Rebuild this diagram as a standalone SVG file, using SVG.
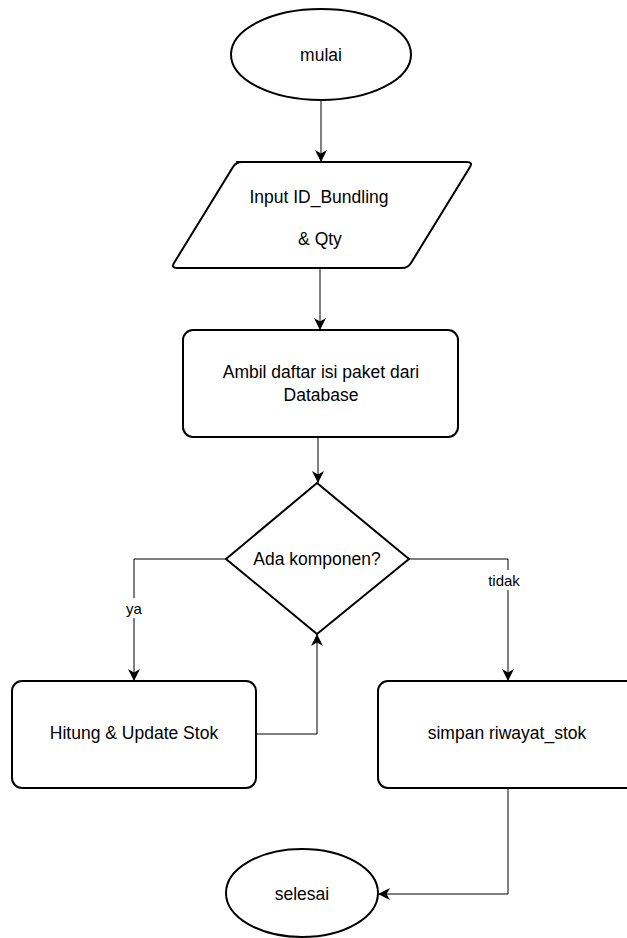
<svg xmlns="http://www.w3.org/2000/svg" width="627" height="938" viewBox="0 0 627 938">
<defs>
<style>
.shape{fill:#fff;stroke:#000;stroke-width:2;stroke-linejoin:round}
.conn{fill:none;stroke:#000;stroke-width:1}
.t{font-family:"Liberation Sans",Arial,sans-serif;font-size:17.5px;fill:#000;text-anchor:middle;dominant-baseline:central}
.lbl{font-family:"Liberation Sans",Arial,sans-serif;font-size:15px;fill:#000;text-anchor:middle;dominant-baseline:central}
</style>
<marker id="arr" markerWidth="14" markerHeight="14" refX="12" refY="6" orient="auto" markerUnits="userSpaceOnUse">
<path d="M0,0 L12,6 L0,12 L3.5,6 z" fill="#000"/>
</marker>
</defs>
<rect width="627" height="938" fill="#fff"/>
<g id="connectors">
<path class="conn" d="M321,100 V162" marker-end="url(#arr)"/>
<path class="conn" d="M320,268 V330" marker-end="url(#arr)"/>
<path class="conn" d="M318,437 V483" marker-end="url(#arr)"/>
<path class="conn" d="M226,559 H134 V681" marker-end="url(#arr)"/>
<path class="conn" d="M409,559 H508 V681" marker-end="url(#arr)"/>
<path class="conn" d="M256,734 H317 V634" marker-end="url(#arr)"/>
<path class="conn" d="M508,788 V894 H378" marker-end="url(#arr)"/>
<rect x="124" y="598" width="20" height="20" fill="#fff"/>
<text class="lbl" x="134" y="608">ya</text>
<rect x="487" y="570" width="34" height="20" fill="#fff"/>
<text class="lbl" x="504" y="580">tidak</text>
</g>
<g id="mulai">
<ellipse class="shape" cx="321" cy="54.5" rx="90" ry="45.5"/>
<text class="t" x="321" y="55">mulai</text>
</g>
<g id="input">
<path class="shape" d="M237,162 H467 Q473,162 470,167 L411,263 Q408,268 402,268 H177 Q171,268 174,263 L233,167 Q236,162 242,162 Z"/>
<text class="t" x="319" y="197">Input ID_Bundling</text>
<text class="t" x="320" y="239">&amp; Qty</text>
</g>
<g id="ambil">
<rect class="shape" x="183" y="330" width="275" height="107" rx="10"/>
<text class="t" x="321" y="372">Ambil daftar isi paket dari</text>
<text class="t" x="321" y="395">Database</text>
</g>
<g id="decision">
<path class="shape" d="M317,483 L409,559 L317,634 L226,559 Z"/>
<text class="t" x="317" y="559">Ada komponen?</text>
</g>
<g id="hitung">
<rect class="shape" x="12" y="681" width="244" height="107" rx="10"/>
<text class="t" x="134" y="733">Hitung &amp; Update Stok</text>
</g>
<g id="simpan">
<rect class="shape" x="378" y="681" width="258" height="107" rx="10"/>
<text class="t" x="507" y="733">simpan riwayat_stok</text>
</g>
<g id="selesai">
<ellipse class="shape" cx="302" cy="893" rx="76" ry="44"/>
<text class="t" x="302" y="894">selesai</text>
</g>
</svg>
